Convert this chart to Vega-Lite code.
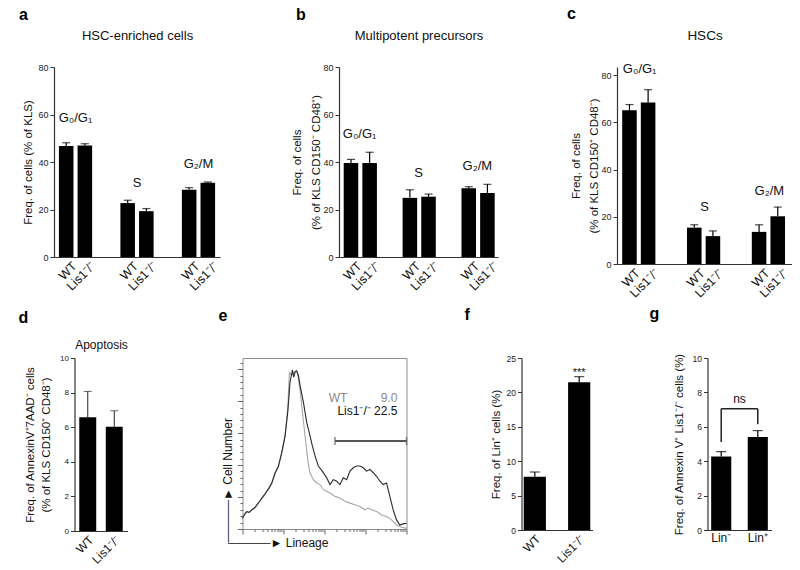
{
  "$schema": "https://vega.github.io/schema/vega-lite/v6.json",
  "background": "white",
  "padding": {"left": 18, "top": 6, "right": 0, "bottom": 0},
  "center": true,
  "bounds": "full",
  "spacing": 5,
  "config": {
    "font": "Liberation Sans",
    "view": {"stroke": null},
    "title": {"anchor": "start", "frame": "group", "fontSize": 16, "fontWeight": "bold", "color": "#000", "font": "Liberation Sans"},
    "axis": {"grid": false, "labelFontSize": 9, "titleFontSize": 11.5, "titleFontWeight": "normal", "tickSize": 4, "domainWidth": 1.2, "tickWidth": 1, "domainColor": "#333", "tickColor": "#333", "labelColor": "#222", "titleColor": "#111", "labelPadding": 2, "labelFont": "Liberation Sans", "titleFont": "Liberation Sans"},
    "text": {"font": "Liberation Sans", "color": "#111"}
  },
  "datasets": {
    "a": [
      {"group": "G0/G1", "genotype": "WT", "value": 46.7, "hi": 48.1},
      {"group": "G0/G1", "genotype": "Lis1⁻/⁻", "value": 47.0, "hi": 47.7},
      {"group": "S", "genotype": "WT", "value": 22.7, "hi": 23.9},
      {"group": "S", "genotype": "Lis1⁻/⁻", "value": 19.3, "hi": 20.4},
      {"group": "G2/M", "genotype": "WT", "value": 28.3, "hi": 29.2},
      {"group": "G2/M", "genotype": "Lis1⁻/⁻", "value": 31.3, "hi": 31.6}
    ],
    "a_lab": [
      {"group": "G0/G1", "label": "G₀/G₁", "ly": 58.5},
      {"group": "S", "label": "S", "ly": 31.2},
      {"group": "G2/M", "label": "G₂/M", "ly": 39.0}
    ],
    "b": [
      {"group": "G0/G1", "genotype": "WT", "value": 39.6, "hi": 41.1},
      {"group": "G0/G1", "genotype": "Lis1⁻/⁻", "value": 39.6, "hi": 44.1},
      {"group": "S", "genotype": "WT", "value": 24.9, "hi": 28.3},
      {"group": "S", "genotype": "Lis1⁻/⁻", "value": 25.4, "hi": 26.5},
      {"group": "G2/M", "genotype": "WT", "value": 29.0, "hi": 29.6},
      {"group": "G2/M", "genotype": "Lis1⁻/⁻", "value": 27.0, "hi": 30.6}
    ],
    "b_lab": [
      {"group": "G0/G1", "label": "G₀/G₁", "ly": 51.8},
      {"group": "S", "label": "S", "ly": 35.5},
      {"group": "G2/M", "label": "G₂/M", "ly": 38.3}
    ],
    "c": [
      {"group": "G0/G1", "genotype": "WT", "value": 65.1, "hi": 67.5},
      {"group": "G0/G1", "genotype": "Lis1⁻/⁻", "value": 68.4, "hi": 73.8},
      {"group": "S", "genotype": "WT", "value": 15.4, "hi": 16.6},
      {"group": "S", "genotype": "Lis1⁻/⁻", "value": 11.8, "hi": 14.0},
      {"group": "G2/M", "genotype": "WT", "value": 13.6, "hi": 16.6},
      {"group": "G2/M", "genotype": "Lis1⁻/⁻", "value": 20.2, "hi": 24.1}
    ],
    "c_lab": [
      {"group": "G0/G1", "label": "G₀/G₁", "ly": 82.5},
      {"group": "S", "label": "S", "ly": 24.0},
      {"group": "G2/M", "label": "G₂/M", "ly": 30.7}
    ],
    "d": [
      {"genotype": "WT", "value": 6.58, "hi": 8.07},
      {"genotype": "Lis1⁻/⁻", "value": 6.02, "hi": 6.95}
    ],
    "e_wt": [
      {"lineage": 0.000, "count": 6.7}, {"lineage": 0.050, "count": 8.9}, {"lineage": 0.105, "count": 10.9},
      {"lineage": 0.160, "count": 10.2}, {"lineage": 0.227, "count": 12.0}, {"lineage": 0.290, "count": 12.8},
      {"lineage": 0.349, "count": 14.5}, {"lineage": 0.410, "count": 16.9}, {"lineage": 0.471, "count": 18.7},
      {"lineage": 0.530, "count": 20.8}, {"lineage": 0.592, "count": 23.6}, {"lineage": 0.650, "count": 25.4},
      {"lineage": 0.714, "count": 28.4}, {"lineage": 0.795, "count": 34.7}, {"lineage": 0.876, "count": 38.9},
      {"lineage": 0.957, "count": 47.4}, {"lineage": 1.039, "count": 58.7}, {"lineage": 1.103, "count": 75.1},
      {"lineage": 1.144, "count": 97.9}, {"lineage": 1.201, "count": 96.2}, {"lineage": 1.266, "count": 98.3},
      {"lineage": 1.323, "count": 99.4}, {"lineage": 1.363, "count": 94.1}, {"lineage": 1.404, "count": 86.7},
      {"lineage": 1.444, "count": 77.3}, {"lineage": 1.525, "count": 58.3}, {"lineage": 1.590, "count": 43.6},
      {"lineage": 1.647, "count": 35.2}, {"lineage": 1.728, "count": 30.9}, {"lineage": 1.809, "count": 28.8},
      {"lineage": 1.890, "count": 27.8}, {"lineage": 1.972, "count": 24.6}, {"lineage": 2.053, "count": 23.6},
      {"lineage": 2.134, "count": 22.5}, {"lineage": 2.256, "count": 20.4}, {"lineage": 2.377, "count": 19.4},
      {"lineage": 2.499, "count": 17.3}, {"lineage": 2.621, "count": 16.2}, {"lineage": 2.742, "count": 15.2},
      {"lineage": 2.864, "count": 14.1}, {"lineage": 2.986, "count": 12.0}, {"lineage": 3.067, "count": 13.1},
      {"lineage": 3.148, "count": 12.0}, {"lineage": 3.270, "count": 10.9}, {"lineage": 3.391, "count": 8.8},
      {"lineage": 3.513, "count": 7.8}, {"lineage": 3.635, "count": 5.7}, {"lineage": 3.757, "count": 2.5},
      {"lineage": 3.878, "count": 1.1}, {"lineage": 4.000, "count": 0.4}
    ],
    "e_lis": [
      {"lineage": 0.000, "count": 6.7}, {"lineage": 0.050, "count": 9.2}, {"lineage": 0.105, "count": 10.9},
      {"lineage": 0.160, "count": 10.4}, {"lineage": 0.227, "count": 12.0}, {"lineage": 0.290, "count": 13.1},
      {"lineage": 0.349, "count": 15.2}, {"lineage": 0.410, "count": 17.2}, {"lineage": 0.471, "count": 19.4},
      {"lineage": 0.530, "count": 21.3}, {"lineage": 0.592, "count": 23.6}, {"lineage": 0.650, "count": 25.9},
      {"lineage": 0.714, "count": 28.8}, {"lineage": 0.795, "count": 35.2}, {"lineage": 0.876, "count": 39.4},
      {"lineage": 0.957, "count": 47.8}, {"lineage": 1.039, "count": 58.3}, {"lineage": 1.103, "count": 73.0},
      {"lineage": 1.160, "count": 92.0}, {"lineage": 1.217, "count": 99.4}, {"lineage": 1.250, "count": 95.0},
      {"lineage": 1.282, "count": 98.3}, {"lineage": 1.323, "count": 98.7}, {"lineage": 1.363, "count": 96.2},
      {"lineage": 1.404, "count": 89.9}, {"lineage": 1.485, "count": 79.4}, {"lineage": 1.566, "count": 66.7},
      {"lineage": 1.647, "count": 58.3}, {"lineage": 1.704, "count": 52.0}, {"lineage": 1.769, "count": 45.7},
      {"lineage": 1.850, "count": 39.4}, {"lineage": 1.947, "count": 36.2}, {"lineage": 2.053, "count": 32.0},
      {"lineage": 2.134, "count": 27.8}, {"lineage": 2.215, "count": 30.9}, {"lineage": 2.296, "count": 29.9},
      {"lineage": 2.377, "count": 27.8}, {"lineage": 2.458, "count": 32.0}, {"lineage": 2.540, "count": 30.9},
      {"lineage": 2.621, "count": 36.2}, {"lineage": 2.702, "count": 38.3}, {"lineage": 2.783, "count": 39.4},
      {"lineage": 2.864, "count": 39.4}, {"lineage": 2.945, "count": 38.3}, {"lineage": 3.026, "count": 36.2},
      {"lineage": 3.108, "count": 37.3}, {"lineage": 3.189, "count": 35.2}, {"lineage": 3.270, "count": 33.0},
      {"lineage": 3.351, "count": 29.9}, {"lineage": 3.432, "count": 27.8}, {"lineage": 3.513, "count": 28.8},
      {"lineage": 3.594, "count": 20.4}, {"lineage": 3.675, "count": 12.0}, {"lineage": 3.757, "count": 5.7},
      {"lineage": 3.838, "count": 2.5}, {"lineage": 3.919, "count": 3.2}, {"lineage": 4.000, "count": 3.6}
    ],
    "e_gate": [{"from": 2.256, "to": 4.0, "level": 55}],
    "e_gate_ends": [{"edge": 2.256, "level": 55}, {"edge": 4.0, "level": 55}],
    "e_text": [
      {"t": "WT\u00a0\u00a0\u00a0\u00a0\u00a0\u00a0\u00a0\u00a0\u00a0 9.0", "g": "WT", "x": 3.78, "y": 82},
      {"t": "Lis1⁻/⁻ 22.5", "g": "Lis1", "x": 3.78, "y": 73.7}
    ],
    "f": [
      {"genotype": "WT", "value": 7.75, "hi": 8.43, "sig": ""},
      {"genotype": "Lis1⁻/⁻", "value": 21.46, "hi": 22.29, "sig": "***"}
    ],
    "g": [
      {"pop": "Lin⁻", "value": 4.28, "hi": 4.56},
      {"pop": "Lin⁺", "value": 5.40, "hi": 5.78}
    ],
    "g_br": [
      {"a": "Lin⁻", "b": "Lin⁺", "lo": 7.05, "top": 7.05},
      {"a": "Lin⁻", "b": "Lin⁻", "lo": 5.12, "top": 7.05},
      {"a": "Lin⁺", "b": "Lin⁺", "lo": 6.15, "top": 7.05}
    ],
    "g_ns": [{"pop": "Lin⁻", "t": "ns", "y": 7.6}]
  },
  "vconcat": [
    {
      "bounds": "flush",
      "spacing": 119,
      "hconcat": [
        {
          "width": 166, "height": 190,
          "title": {"text": "a", "dx": -35, "offset": 6},
          "resolve": {"axis": {"x": "independent", "y": "independent"}},
          "layer": [
            {"data": {"name": "a"}, "mark": {"type": "bar", "color": "#000"},
             "encoding": {
               "x": {"field": "group", "type": "nominal", "scale": {"domain": ["G0/G1", "S", "G2/M"], "paddingInner": 0.46, "paddingOuter": 0.08}, "axis": {"orient": "bottom", "labels": false, "ticks": false, "title": null}},
               "xOffset": {"field": "genotype", "type": "nominal", "scale": {"domain": ["WT", "Lis1⁻/⁻"], "paddingInner": 0.22, "paddingOuter": 0}},
               "y": {"field": "value", "type": "quantitative", "scale": {"domain": [0, 80], "nice": false}, "axis": {"values": [0, 20, 40, 60, 80], "title": "Freq. of cells (% of KLS)", "titlePadding": 4}}}},
            {"data": {"name": "a"}, "mark": {"type": "rule", "color": "#000", "strokeWidth": 1.2},
             "encoding": {
               "x": {"field": "group", "type": "nominal", "scale": {"domain": ["G0/G1", "S", "G2/M"], "paddingInner": 0.46, "paddingOuter": 0.08}, "axis": null},
               "xOffset": {"field": "genotype", "type": "nominal", "scale": {"domain": ["WT", "Lis1⁻/⁻"], "paddingInner": 0.22, "paddingOuter": 0}},
               "y": {"field": "value", "type": "quantitative", "scale": {"domain": [0, 80], "nice": false}, "axis": null},
               "y2": {"field": "hi"}}},
            {"data": {"name": "a"}, "mark": {"type": "tick", "color": "#000", "size": 8, "thickness": 1.2, "orient": "horizontal"},
             "encoding": {
               "x": {"field": "group", "type": "nominal", "scale": {"domain": ["G0/G1", "S", "G2/M"], "paddingInner": 0.46, "paddingOuter": 0.08}, "axis": null},
               "xOffset": {"field": "genotype", "type": "nominal", "scale": {"domain": ["WT", "Lis1⁻/⁻"], "paddingInner": 0.22, "paddingOuter": 0}},
               "y": {"field": "hi", "type": "quantitative", "scale": {"domain": [0, 80], "nice": false}, "axis": null}}},
            {"data": {"name": "a"}, "mark": {"type": "text", "angle": -45, "align": "right", "baseline": "top", "dx": 1, "dy": 5, "fontSize": 12.5},
             "encoding": {
               "x": {"field": "group", "type": "nominal", "scale": {"domain": ["G0/G1", "S", "G2/M"], "paddingInner": 0.46, "paddingOuter": 0.08}, "axis": null},
               "xOffset": {"field": "genotype", "type": "nominal", "scale": {"domain": ["WT", "Lis1⁻/⁻"], "paddingInner": 0.22, "paddingOuter": 0}},
               "y": {"datum": 0, "type": "quantitative", "scale": {"domain": [0, 80], "nice": false}, "axis": null},
               "text": {"field": "genotype"}}},
            {"data": {"name": "a_lab"}, "mark": {"type": "text", "fontSize": 13, "baseline": "middle"},
             "encoding": {
               "x": {"field": "group", "type": "nominal", "scale": {"domain": ["G0/G1", "S", "G2/M"], "paddingInner": 0.46, "paddingOuter": 0.08}, "axis": {"orient": "top", "labels": false, "ticks": false, "domain": false, "title": "HSC-enriched cells", "titlePadding": 25, "titleFontSize": 13}},
               "y": {"field": "ly", "type": "quantitative", "scale": {"domain": [0, 80], "nice": false}, "axis": null},
               "text": {"field": "label"}}}
          ]
        },
        {
          "width": 159, "height": 190,
          "title": {"text": "b", "dx": -43, "offset": 6},
          "resolve": {"axis": {"x": "independent", "y": "independent"}},
          "layer": [
            {"data": {"name": "b"}, "mark": {"type": "bar", "color": "#000"},
             "encoding": {
               "x": {"field": "group", "type": "nominal", "scale": {"domain": ["G0/G1", "S", "G2/M"], "paddingInner": 0.46, "paddingOuter": 0.08}, "axis": {"orient": "bottom", "labels": false, "ticks": false, "title": null}},
               "xOffset": {"field": "genotype", "type": "nominal", "scale": {"domain": ["WT", "Lis1⁻/⁻"], "paddingInner": 0.22, "paddingOuter": 0}},
               "y": {"field": "value", "type": "quantitative", "scale": {"domain": [0, 80], "nice": false}, "axis": {"values": [0, 20, 40, 60, 80], "title": ["Freq. of cells", "(% of KLS CD150⁻ CD48⁺)"], "titlePadding": 1, "titleLineHeight": 19}}}},
            {"data": {"name": "b"}, "mark": {"type": "rule", "color": "#000", "strokeWidth": 1.2},
             "encoding": {
               "x": {"field": "group", "type": "nominal", "scale": {"domain": ["G0/G1", "S", "G2/M"], "paddingInner": 0.46, "paddingOuter": 0.08}, "axis": null},
               "xOffset": {"field": "genotype", "type": "nominal", "scale": {"domain": ["WT", "Lis1⁻/⁻"], "paddingInner": 0.22, "paddingOuter": 0}},
               "y": {"field": "value", "type": "quantitative", "scale": {"domain": [0, 80], "nice": false}, "axis": null},
               "y2": {"field": "hi"}}},
            {"data": {"name": "b"}, "mark": {"type": "tick", "color": "#000", "size": 8, "thickness": 1.2, "orient": "horizontal"},
             "encoding": {
               "x": {"field": "group", "type": "nominal", "scale": {"domain": ["G0/G1", "S", "G2/M"], "paddingInner": 0.46, "paddingOuter": 0.08}, "axis": null},
               "xOffset": {"field": "genotype", "type": "nominal", "scale": {"domain": ["WT", "Lis1⁻/⁻"], "paddingInner": 0.22, "paddingOuter": 0}},
               "y": {"field": "hi", "type": "quantitative", "scale": {"domain": [0, 80], "nice": false}, "axis": null}}},
            {"data": {"name": "b"}, "mark": {"type": "text", "angle": -45, "align": "right", "baseline": "top", "dx": 1, "dy": 5, "fontSize": 12.5},
             "encoding": {
               "x": {"field": "group", "type": "nominal", "scale": {"domain": ["G0/G1", "S", "G2/M"], "paddingInner": 0.46, "paddingOuter": 0.08}, "axis": null},
               "xOffset": {"field": "genotype", "type": "nominal", "scale": {"domain": ["WT", "Lis1⁻/⁻"], "paddingInner": 0.22, "paddingOuter": 0}},
               "y": {"datum": 0, "type": "quantitative", "scale": {"domain": [0, 80], "nice": false}, "axis": null},
               "text": {"field": "genotype"}}},
            {"data": {"name": "b_lab"}, "mark": {"type": "text", "fontSize": 13, "baseline": "middle"},
             "encoding": {
               "x": {"field": "group", "type": "nominal", "scale": {"domain": ["G0/G1", "S", "G2/M"], "paddingInner": 0.46, "paddingOuter": 0.08}, "axis": {"orient": "top", "labels": false, "ticks": false, "domain": false, "title": "Multipotent precursors", "titlePadding": 25, "titleFontSize": 13}},
               "y": {"field": "ly", "type": "quantitative", "scale": {"domain": [0, 80], "nice": false}, "axis": null},
               "text": {"field": "label"}}}
          ]
        },
        {
          "width": 175, "height": 197,
          "title": {"text": "c", "dx": -50, "offset": 6},
          "resolve": {"axis": {"x": "independent", "y": "independent"}},
          "layer": [
            {"data": {"name": "c"}, "mark": {"type": "bar", "color": "#000"},
             "encoding": {
               "x": {"field": "group", "type": "nominal", "scale": {"domain": ["G0/G1", "S", "G2/M"], "paddingInner": 0.46, "paddingOuter": 0.08}, "axis": {"orient": "bottom", "labels": false, "ticks": false, "title": null}},
               "xOffset": {"field": "genotype", "type": "nominal", "scale": {"domain": ["WT", "Lis1⁻/⁻"], "paddingInner": 0.22, "paddingOuter": 0}},
               "y": {"field": "value", "type": "quantitative", "scale": {"domain": [0, 83.4], "nice": false}, "axis": {"values": [0, 20, 40, 60, 80], "title": ["Freq. of cells", "(% of KLS CD150⁺ CD48⁻)"], "titlePadding": 1, "titleLineHeight": 18}}}},
            {"data": {"name": "c"}, "mark": {"type": "rule", "color": "#000", "strokeWidth": 1.2},
             "encoding": {
               "x": {"field": "group", "type": "nominal", "scale": {"domain": ["G0/G1", "S", "G2/M"], "paddingInner": 0.46, "paddingOuter": 0.08}, "axis": null},
               "xOffset": {"field": "genotype", "type": "nominal", "scale": {"domain": ["WT", "Lis1⁻/⁻"], "paddingInner": 0.22, "paddingOuter": 0}},
               "y": {"field": "value", "type": "quantitative", "scale": {"domain": [0, 83.4], "nice": false}, "axis": null},
               "y2": {"field": "hi"}}},
            {"data": {"name": "c"}, "mark": {"type": "tick", "color": "#000", "size": 8, "thickness": 1.2, "orient": "horizontal"},
             "encoding": {
               "x": {"field": "group", "type": "nominal", "scale": {"domain": ["G0/G1", "S", "G2/M"], "paddingInner": 0.46, "paddingOuter": 0.08}, "axis": null},
               "xOffset": {"field": "genotype", "type": "nominal", "scale": {"domain": ["WT", "Lis1⁻/⁻"], "paddingInner": 0.22, "paddingOuter": 0}},
               "y": {"field": "hi", "type": "quantitative", "scale": {"domain": [0, 83.4], "nice": false}, "axis": null}}},
            {"data": {"name": "c"}, "mark": {"type": "text", "angle": -45, "align": "right", "baseline": "top", "dx": 1, "dy": 5, "fontSize": 12.5},
             "encoding": {
               "x": {"field": "group", "type": "nominal", "scale": {"domain": ["G0/G1", "S", "G2/M"], "paddingInner": 0.46, "paddingOuter": 0.08}, "axis": null},
               "xOffset": {"field": "genotype", "type": "nominal", "scale": {"domain": ["WT", "Lis1⁻/⁻"], "paddingInner": 0.22, "paddingOuter": 0}},
               "y": {"datum": 0, "type": "quantitative", "scale": {"domain": [0, 83.4], "nice": false}, "axis": null},
               "text": {"field": "genotype"}}},
            {"data": {"name": "c_lab"}, "mark": {"type": "text", "fontSize": 13, "baseline": "middle"},
             "encoding": {
               "x": {"field": "group", "type": "nominal", "scale": {"domain": ["G0/G1", "S", "G2/M"], "paddingInner": 0.46, "paddingOuter": 0.08}, "axis": {"orient": "top", "labels": false, "ticks": false, "domain": false, "title": "HSCs", "titlePadding": 25, "titleFontSize": 13.5}},
               "y": {"field": "ly", "type": "quantitative", "scale": {"domain": [0, 83.4], "nice": false}, "axis": null},
               "text": {"field": "label"}}}
          ]
        }
      ]
    },
    {
      "bounds": "flush",
      "spacing": 115,
      "hconcat": [
        {
          "width": 53, "height": 173,
          "title": {"text": "d", "dx": -56, "offset": 12},
          "resolve": {"axis": {"x": "independent", "y": "independent"}},
          "layer": [
            {"data": {"name": "d"}, "mark": {"type": "bar", "color": "#000"},
             "encoding": {
               "x": {"field": "genotype", "type": "nominal", "scale": {"domain": ["WT", "Lis1⁻/⁻"], "paddingInner": 0.36, "paddingOuter": 0.18}, "axis": {"orient": "bottom", "ticks": false, "title": null, "labelAngle": -45, "labelAlign": "right", "labelBaseline": "top", "labelFontSize": 12, "labelPadding": 3, "labelColor": "#111"}},
               "y": {"field": "value", "type": "quantitative", "scale": {"domain": [0, 10], "nice": false}, "axis": {"values": [0, 2, 4, 6, 8, 10], "labelFontSize": 8, "title": ["Freq. of AnnexinV⁺7AAD⁻ cells", "(% of KLS CD150⁺ CD48⁻)"], "titlePadding": 8, "titleLineHeight": 16}}}},
            {"data": {"name": "d"}, "mark": {"type": "rule", "color": "#222", "strokeWidth": 1},
             "encoding": {
               "x": {"field": "genotype", "type": "nominal", "scale": {"domain": ["WT", "Lis1⁻/⁻"], "paddingInner": 0.36, "paddingOuter": 0.18}, "axis": {"orient": "top", "labels": false, "ticks": false, "domain": false, "title": "Apoptosis", "titlePadding": 7, "titleFontSize": 12}},
               "y": {"field": "value", "type": "quantitative", "scale": {"domain": [0, 10], "nice": false}, "axis": null},
               "y2": {"field": "hi"}}},
            {"data": {"name": "d"}, "mark": {"type": "tick", "color": "#222", "size": 8, "thickness": 1, "orient": "horizontal"},
             "encoding": {
               "x": {"field": "genotype", "type": "nominal", "scale": {"domain": ["WT", "Lis1⁻/⁻"], "paddingInner": 0.36, "paddingOuter": 0.18}, "axis": null},
               "y": {"field": "hi", "type": "quantitative", "scale": {"domain": [0, 10], "nice": false}, "axis": null}}}
          ]
        },
        {
          "width": 164, "height": 171,
          "title": {"text": "e", "dx": -24, "offset": 34},
          "view": {"stroke": "#8c8c8c", "strokeWidth": 1},
          "resolve": {"axis": {"x": "independent", "y": "independent"}},
          "layer": [
            {"data": {"name": "e_wt"}, "mark": {"type": "line", "color": "#a6a6a6", "strokeWidth": 1.1},
             "encoding": {
               "x": {"field": "lineage", "type": "quantitative", "scale": {"domain": [0, 4], "nice": false},
                     "axis": {"orient": "bottom", "labels": false, "domain": false, "tickColor": "#666",
                              "values": [0, 0.30103, 0.47712, 0.60206, 0.69897, 0.77815, 0.8451, 0.90309, 0.95424, 1, 1.30103, 1.47712, 1.60206, 1.69897, 1.77815, 1.8451, 1.90309, 1.95424, 2, 2.30103, 2.47712, 2.60206, 2.69897, 2.77815, 2.8451, 2.90309, 2.95424, 3, 3.30103, 3.47712, 3.60206, 3.69897, 3.77815, 3.8451, 3.90309, 3.95424, 4],
                              "tickSize": {"condition": {"test": "datum.value % 1 === 0", "value": 5}, "value": 2.5},
                              "title": "─────► Lineage", "titleX": -15, "titleY": 13, "titleAlign": "left", "titleBaseline": "middle", "titleFontSize": 12, "titleAngle": 0}},
               "y": {"field": "count", "type": "quantitative", "scale": {"domain": [0, 107], "nice": false},
                     "axis": {"orient": "left", "labels": false, "domain": false, "tickColor": "#666",
                              "values": [0, 4, 8, 12, 16, 20, 24, 28, 32, 36, 40, 44, 48, 52, 56, 60, 64, 68, 72, 76, 80, 84, 88, 92, 96, 100, 104],
                              "tickSize": {"condition": {"test": "datum.value % 20 === 0", "value": 5}, "value": 2.5},
                              "title": "─────► Cell Number", "titleX": -15, "titleY": 184, "titleAlign": "left", "titleBaseline": "middle", "titleAngle": -90, "titleFontSize": 12}}}},
            {"data": {"name": "e_lis"}, "mark": {"type": "line", "color": "#2a2a2a", "strokeWidth": 1.1},
             "encoding": {
               "x": {"field": "lineage", "type": "quantitative", "scale": {"domain": [0, 4], "nice": false}, "axis": null},
               "y": {"field": "count", "type": "quantitative", "scale": {"domain": [0, 107], "nice": false}, "axis": null}}},
            {"data": {"name": "e_gate"}, "mark": {"type": "rule", "color": "#555", "strokeWidth": 2},
             "encoding": {
               "x": {"field": "from", "type": "quantitative", "scale": {"domain": [0, 4], "nice": false}, "axis": null},
               "x2": {"field": "to"},
               "y": {"field": "level", "type": "quantitative", "scale": {"domain": [0, 107], "nice": false}, "axis": null}}},
            {"data": {"name": "e_gate_ends"}, "mark": {"type": "tick", "color": "#555", "orient": "vertical", "size": 8, "thickness": 1.5},
             "encoding": {
               "x": {"field": "edge", "type": "quantitative", "scale": {"domain": [0, 4], "nice": false}, "axis": null},
               "y": {"field": "level", "type": "quantitative", "scale": {"domain": [0, 107], "nice": false}, "axis": null}}},
            {"data": {"name": "e_text"}, "mark": {"type": "text", "align": "right", "baseline": "middle", "fontSize": 12},
             "encoding": {
               "x": {"field": "x", "type": "quantitative", "scale": {"domain": [0, 4], "nice": false}, "axis": null},
               "y": {"field": "y", "type": "quantitative", "scale": {"domain": [0, 107], "nice": false}, "axis": null},
               "text": {"field": "t"},
               "color": {"field": "g", "type": "nominal", "scale": {"domain": ["WT", "Lis1"], "range": ["#8a8a8a", "#111111"]}, "legend": null}}}
          ]
        },
        {
          "width": 71, "height": 172,
          "title": {"text": "f", "dx": -57, "offset": 31},
          "resolve": {"axis": {"x": "independent", "y": "independent"}},
          "layer": [
            {"data": {"name": "f"}, "mark": {"type": "bar", "color": "#000"},
             "encoding": {
               "x": {"field": "genotype", "type": "nominal", "scale": {"domain": ["WT", "Lis1⁻/⁻"], "paddingInner": 0.5, "paddingOuter": 0.05}, "axis": {"orient": "bottom", "ticks": false, "title": null, "labelAngle": -45, "labelAlign": "right", "labelBaseline": "top", "labelFontSize": 12, "labelPadding": 3, "labelColor": "#111"}},
               "y": {"field": "value", "type": "quantitative", "scale": {"domain": [0, 25], "nice": false}, "axis": {"values": [0, 5, 10, 15, 20, 25], "labelFontSize": 8.5, "title": "Freq. of Lin⁺ cells (%)", "titlePadding": 5}}}},
            {"data": {"name": "f"}, "mark": {"type": "rule", "color": "#000", "strokeWidth": 1.2},
             "encoding": {
               "x": {"field": "genotype", "type": "nominal", "scale": {"domain": ["WT", "Lis1⁻/⁻"], "paddingInner": 0.5, "paddingOuter": 0.05}, "axis": null},
               "y": {"field": "value", "type": "quantitative", "scale": {"domain": [0, 25], "nice": false}, "axis": null},
               "y2": {"field": "hi"}}},
            {"data": {"name": "f"}, "mark": {"type": "tick", "color": "#000", "size": 10, "thickness": 1.2, "orient": "horizontal"},
             "encoding": {
               "x": {"field": "genotype", "type": "nominal", "scale": {"domain": ["WT", "Lis1⁻/⁻"], "paddingInner": 0.5, "paddingOuter": 0.05}, "axis": null},
               "y": {"field": "hi", "type": "quantitative", "scale": {"domain": [0, 25], "nice": false}, "axis": null}}},
            {"data": {"name": "f"}, "mark": {"type": "text", "baseline": "alphabetic", "dy": -1, "fontSize": 11},
             "encoding": {
               "x": {"field": "genotype", "type": "nominal", "scale": {"domain": ["WT", "Lis1⁻/⁻"], "paddingInner": 0.5, "paddingOuter": 0.05}, "axis": null},
               "y": {"field": "hi", "type": "quantitative", "scale": {"domain": [0, 25], "nice": false}, "axis": null},
               "text": {"field": "sig"}}}
          ]
        },
        {
          "width": 64, "height": 172,
          "title": {"text": "g", "dx": -58, "offset": 31},
          "resolve": {"axis": {"x": "independent", "y": "independent"}},
          "layer": [
            {"data": {"name": "g"}, "mark": {"type": "bar", "color": "#000"},
             "encoding": {
               "x": {"field": "pop", "type": "nominal", "scale": {"domain": ["Lin⁻", "Lin⁺"], "paddingInner": 0.45, "paddingOuter": 0.1}, "axis": {"orient": "bottom", "ticks": false, "title": null, "labelAngle": 0, "labelAlign": "center", "labelBaseline": "top", "labelFontSize": 12, "labelPadding": 2, "labelColor": "#111"}},
               "y": {"field": "value", "type": "quantitative", "scale": {"domain": [0, 10], "nice": false}, "axis": {"values": [0, 2, 4, 6, 8, 10], "labelFontSize": 8.5, "title": "Freq. of Annexin V⁺ Lis1⁻/⁻ cells (%)", "titlePadding": 8}}}},
            {"data": {"name": "g"}, "mark": {"type": "rule", "color": "#000", "strokeWidth": 1.2},
             "encoding": {
               "x": {"field": "pop", "type": "nominal", "scale": {"domain": ["Lin⁻", "Lin⁺"], "paddingInner": 0.45, "paddingOuter": 0.1}, "axis": null},
               "y": {"field": "value", "type": "quantitative", "scale": {"domain": [0, 10], "nice": false}, "axis": null},
               "y2": {"field": "hi"}}},
            {"data": {"name": "g"}, "mark": {"type": "tick", "color": "#000", "size": 10, "thickness": 1.2, "orient": "horizontal"},
             "encoding": {
               "x": {"field": "pop", "type": "nominal", "scale": {"domain": ["Lin⁻", "Lin⁺"], "paddingInner": 0.45, "paddingOuter": 0.1}, "axis": null},
               "y": {"field": "hi", "type": "quantitative", "scale": {"domain": [0, 10], "nice": false}, "axis": null}}},
            {"data": {"name": "g_br"}, "mark": {"type": "rule", "color": "#222", "strokeWidth": 1.5},
             "encoding": {
               "x": {"field": "a", "type": "nominal", "scale": {"domain": ["Lin⁻", "Lin⁺"], "paddingInner": 0.45, "paddingOuter": 0.1}, "axis": null},
               "x2": {"field": "b"},
               "y": {"field": "lo", "type": "quantitative", "scale": {"domain": [0, 10], "nice": false}, "axis": null},
               "y2": {"field": "top"}}},
            {"data": {"name": "g_ns"}, "mark": {"type": "text", "baseline": "middle", "fontSize": 12},
             "encoding": {
               "x": {"field": "pop", "type": "nominal", "scale": {"domain": ["Lin⁻", "Lin⁺"], "paddingInner": 0.45, "paddingOuter": 0.1}, "axis": null, "bandPosition": 1.41},
               "y": {"field": "y", "type": "quantitative", "scale": {"domain": [0, 10], "nice": false}, "axis": null},
               "text": {"field": "t"}}}
          ]
        }
      ]
    }
  ]
}
